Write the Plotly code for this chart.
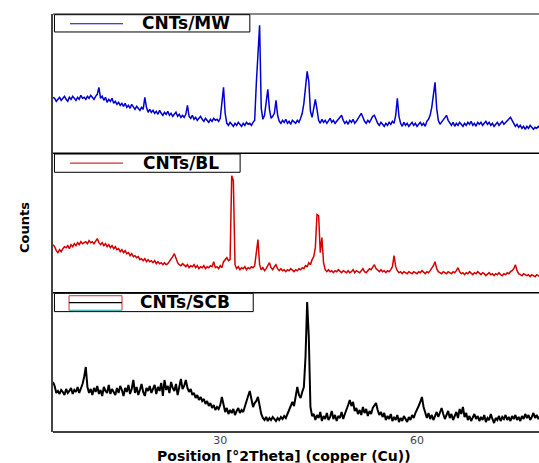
import numpy as np
import plotly.graph_objects as go
from plotly.subplots import make_subplots

# 2-theta sampling grid (degrees), 0.25 deg steps starting at 4.5
TWO_THETA_START = 4.5
TWO_THETA_STEP = 0.25
N_POINTS = 300
two_theta = TWO_THETA_START + TWO_THETA_STEP * np.arange(N_POINTS)

# Intensities (arbitrary counts, each panel on its own scale), 20 points per 5 deg row
mw_counts = [
    56, 55, 52, 54, 56, 53, 55, 57, 54, 52, 56, 54, 57, 55, 53, 56, 54, 58, 55, 56,
    54, 57, 55, 58, 56, 54, 57, 59, 66, 55, 57, 53, 56, 51, 54, 52, 55, 50, 52, 49,
    51, 48, 50, 47, 50, 46, 48, 45, 49, 46, 44, 47, 45, 43, 46, 44, 56, 46, 41, 44,
    41, 43, 40, 42, 39, 43, 40, 38, 41, 39, 42, 38, 40, 37, 39, 41, 37, 39, 36, 38,
    36, 39, 48, 37, 35, 38, 34, 36, 33, 35, 37, 34, 32, 35, 33, 31, 34, 32, 35, 33,
    34, 32, 35, 50, 66, 40, 30, 28, 31, 29, 27, 30, 28, 31, 29, 27, 30, 28, 31, 29,
    30, 28, 31, 33, 70, 106, 128, 45, 34, 38, 50, 64, 44, 35, 37, 40, 53, 38, 32, 30,
    33, 31, 34, 30, 32, 29, 33, 31, 30, 33, 31, 35, 40, 50, 66, 82, 72, 42, 36, 45,
    54, 44, 33, 30, 34, 31, 33, 30, 32, 35, 31, 33, 30, 32, 34, 36, 38, 33, 30, 32,
    29, 33, 31, 34, 30, 32, 35, 37, 40, 36, 32, 30, 33, 31, 34, 37, 38, 33, 30, 28,
    31, 29, 27, 30, 28, 31, 29, 32, 30, 38, 55, 37, 30, 27, 31, 28, 30, 27, 29, 31,
    28, 30, 27, 29, 31, 28, 30, 27, 32, 34, 38, 46, 60, 71, 45, 33, 29, 31, 34, 36,
    38, 33, 30, 28, 31, 27, 30, 28, 31, 29, 27, 30, 28, 31, 29, 32, 28, 30, 27, 31,
    29, 31, 28, 30, 32, 29, 31, 28, 30, 27, 29, 31, 28, 30, 32, 29, 31, 33, 35, 36,
    33, 30, 27, 29, 26, 28, 25, 27, 24, 27, 25, 28, 26, 24, 26, 25, 27, 25, 26, 25,
]

bl_counts = [
    48, 46, 42, 40, 43, 41, 44, 46, 45, 47, 44, 48, 46, 49, 47, 50, 48, 51, 49, 50,
    51, 49, 52, 50, 51, 49, 52, 54, 50, 48, 50, 47, 49, 46, 48, 45, 47, 44, 46, 43,
    44, 41, 43, 40, 42, 39, 40, 37, 39, 36, 37, 35, 36, 33, 34, 32, 34, 31, 33, 31,
    32, 30, 32, 29, 31, 29, 30, 28, 30, 28, 29, 31, 33, 36, 39, 34, 30, 28, 27, 29,
    27, 26, 28, 25, 27, 26, 28, 25, 27, 24, 26, 25, 27, 24, 26, 25, 27, 26, 31, 25,
    26, 24, 27, 25, 31, 33, 35, 32, 33, 117, 112, 28, 24, 26, 23, 25, 24, 26, 23, 25,
    24, 26, 25, 27, 40, 53, 28, 23, 25, 22, 24, 27, 30, 25, 23, 26, 28, 24, 22, 24,
    22, 23, 21, 23, 22, 24, 22, 21, 23, 22, 24, 23, 25, 24, 27, 26, 30, 28, 33, 36,
    45, 78, 77, 40, 55, 30, 23, 21, 23, 21, 22, 20, 22, 21, 23, 21, 20, 22, 21, 20,
    22, 20, 21, 23, 20, 22, 21, 20, 22, 24, 21, 20, 22, 24, 23, 26, 28, 24, 22, 21,
    23, 21, 22, 20, 22, 21, 23, 26, 37, 26, 22, 20, 21, 19, 21, 20, 19, 21, 20, 19,
    21, 20, 19, 21, 20, 22, 20, 19, 21, 20, 22, 24, 27, 31, 24, 21, 20, 19, 21, 20,
    19, 21, 20, 19, 21, 20, 22, 25, 21, 19, 20, 18, 20, 19, 21, 19, 18, 20, 19, 21,
    19, 18, 20, 19, 17, 19, 20, 18, 19, 17, 19, 18, 20, 18, 17, 19, 18, 20, 19, 21,
    22, 24, 28, 22, 19, 18, 17, 19, 18, 17, 18, 16, 18, 17, 16, 18, 17, 16, 17, 16,
]

scb_counts = [
    50, 46, 39, 41, 38, 42, 40, 37, 43, 39, 41, 44, 38, 42, 40, 45, 39, 43, 48, 55,
    65, 45, 39, 43, 37, 44, 40, 46, 38, 42, 36, 45, 41, 39, 47, 38, 43, 40, 37, 44,
    39, 46, 42, 36, 44, 40, 47, 38, 43, 52, 39, 45, 37, 42, 48, 40, 36, 44, 41, 46,
    39, 43, 47, 38, 45, 41, 49, 36, 52, 42, 46, 39, 50, 44, 41, 48, 37, 45, 53, 43,
    46, 52, 44, 40, 43, 37, 39, 34, 37, 32, 35, 31, 33, 28, 31, 26, 29, 24, 27, 22,
    25, 23, 27, 35, 26, 20, 24, 18, 22, 19, 23, 17, 21, 24, 19, 22, 20, 26, 30, 36,
    41, 33, 25, 29, 31, 35, 25, 18, 14, 12, 15, 11, 14, 12, 15, 13, 11, 14, 12, 15,
    13, 16, 14, 18, 22, 27, 30, 26, 38, 45, 37, 34, 40, 45, 75, 130, 95, 25, 16, 18,
    12, 17, 14, 20, 11, 16, 13, 19, 12, 15, 21, 13, 17, 11, 16, 14, 20, 13, 18, 22,
    27, 32, 26, 30, 21, 24, 18, 22, 17, 25, 19, 23, 16, 21, 18, 24, 27, 29, 22, 17,
    20, 15, 19, 12, 16, 13, 18, 11, 15, 12, 17, 10, 14, 11, 16, 13, 10, 15, 12, 17,
    14, 19, 22, 26, 30, 35, 25, 18, 14, 19, 13, 17, 12, 16, 20, 15, 19, 24, 18, 13,
    17, 21, 14, 18, 12, 16, 20, 14, 23, 18, 25, 15, 19, 12, 16, 11, 15, 18, 13, 16,
    11, 15, 12, 17, 10, 14, 12, 18, 13, 9, 14, 12, 16, 11, 15, 13, 17, 12, 15, 11,
    16, 13, 17, 12, 15, 11, 16, 13, 18, 14, 17, 12, 15, 19, 14, 17, 13, 16, 14, 15,
]

series_names = ["CNTs/MW", "CNTs/BL", "CNTs/SCB"]
series_values = [mw_counts, bl_counts, scb_counts]
series_colors = ["#0000D0", "#D40000", "#000000"]
series_widths = [1.5, 1.5, 2.0]

x_tick_vals = [30, 60]
x_tick_text = ["30", "60"]
x_title = "Position [°2Theta] (copper (Cu))"
y_title = "Counts"

fig = make_subplots(rows=3, cols=1, shared_xaxes=True, vertical_spacing=0)

for i, (name, vals, col, w) in enumerate(zip(series_names, series_values, series_colors, series_widths)):
    fig.add_trace(
        go.Scatter(x=two_theta, y=vals, mode="lines", name=name,
                   line=dict(color=col, width=w), showlegend=False),
        row=i + 1, col=1,
    )

for r in range(1, 4):
    fig.update_xaxes(range=[4.5, 78.6], showgrid=False, zeroline=False, ticks="",
                     showline=False, tickvals=x_tick_vals, ticktext=x_tick_text,
                     showticklabels=(r == 3),
                     tickfont=dict(family="DejaVu Sans", size=11, color="#444444"),
                     row=r, col=1)
    fig.update_yaxes(range=[0, 139.3], showgrid=False, zeroline=False, ticks="",
                     showticklabels=False, showline=True, linecolor="#444444",
                     linewidth=2, row=r, col=1)

shapes = []
# panel borders
for yv, colr, wd in [(1, "#888888", 2), (2 / 3, "#000000", 1.5), (1 / 3, "#000000", 1.5), (0, "#000000", 1.5)]:
    shapes.append(dict(type="line", xref="paper", yref="paper", x0=0, x1=1, y0=yv, y1=yv,
                       line=dict(color=colr, width=wd)))

# legend boxes (per panel, in axis-domain coordinates)
legend_boxes = [
    dict(yref="y domain", x1=0.405, y0=0.871, text_x=0.274, sample="line", color="#0000D0"),
    dict(yref="y2 domain", x1=0.385, y0=0.864, text_x=0.263, sample="line", color="#CC3333"),
    dict(yref="y3 domain", x1=0.412, y0=0.864, text_x=0.272, sample="box", color="#CC3333"),
]
annotations = []
for lb, name in zip(legend_boxes, series_names):
    shapes.append(dict(type="rect", xref="x domain", yref=lb["yref"], x0=0.003, x1=lb["x1"],
                       y0=lb["y0"], y1=0.995, line=dict(color="#000000", width=1),
                       fillcolor="white", layer="above"))
    if lb["sample"] == "line":
        shapes.append(dict(type="line", xref="x domain", yref=lb["yref"], x0=0.035, x1=0.144,
                           y0=0.93, y1=0.93, line=dict(color=lb["color"], width=1.2)))
    else:
        shapes.append(dict(type="rect", xref="x domain", yref=lb["yref"], x0=0.033, x1=0.142,
                           y0=0.873, y1=0.978, line=dict(color="#CC3333", width=1)))
        shapes.append(dict(type="line", xref="x domain", yref=lb["yref"], x0=0.033, x1=0.142,
                           y0=0.873, y1=0.873, line=dict(color="#33CCCC", width=1)))
        shapes.append(dict(type="line", xref="x domain", yref=lb["yref"], x0=0.033, x1=0.142,
                           y0=0.928, y1=0.928, line=dict(color="#000000", width=1.2)))
    annotations.append(dict(text="<b>%s</b>" % name, xref="x domain", yref=lb["yref"],
                            x=lb["text_x"], y=0.932, xanchor="center", yanchor="middle",
                            showarrow=False,
                            font=dict(family="DejaVu Sans", size=17, color="#000000")))

annotations.append(dict(text="<b>%s</b>" % x_title, xref="paper", yref="paper",
                        x=0.475, y=-0.058, xanchor="center", yanchor="middle", showarrow=False,
                        font=dict(family="DejaVu Sans", size=14, color="#000000")))
annotations.append(dict(text="<b>%s</b>" % y_title, xref="paper", yref="paper",
                        x=-0.06, y=0.49, xanchor="center", yanchor="middle", showarrow=False,
                        textangle=-90,
                        font=dict(family="DejaVu Sans", size=13, color="#000000")))

fig.update_layout(
    width=539, height=463,
    margin=dict(l=53, r=0, t=14, b=31),
    paper_bgcolor="white", plot_bgcolor="white",
    shapes=shapes, annotations=annotations,
    showlegend=False,
)

fig.write_html(
    "out.html",
    config={"displayModeBar": False},
    post_script="document.body.style.margin='0';document.body.style.overflow='hidden';",
)
